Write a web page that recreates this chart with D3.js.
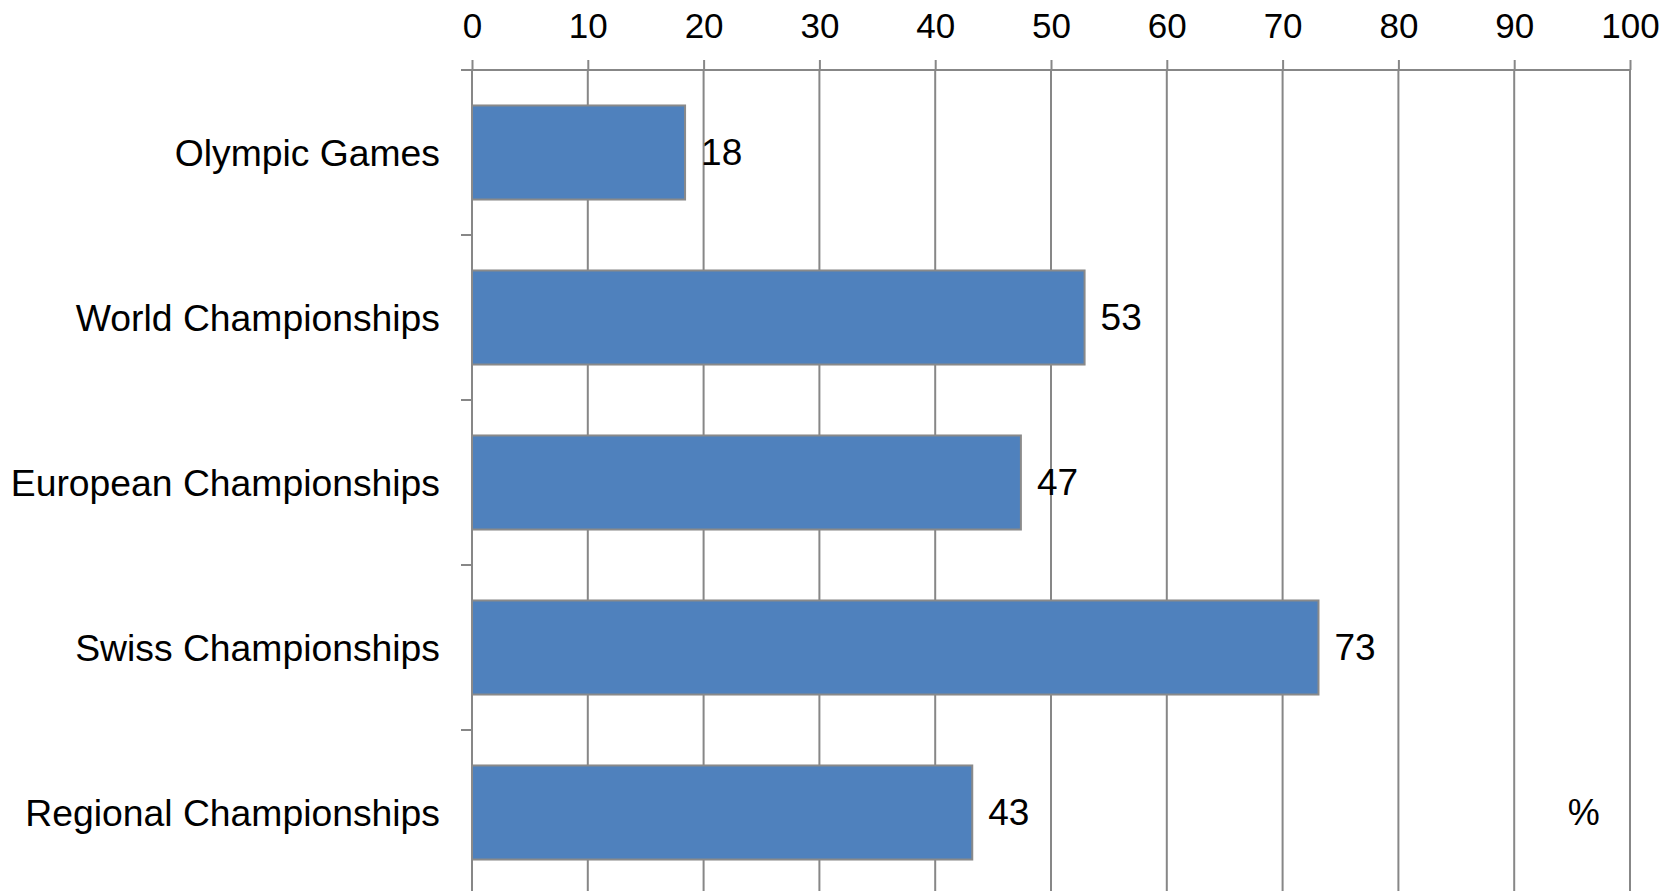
<!DOCTYPE html>
<html lang="en">
  <head>
    <meta charset="UTF-8" />
    <title>Championships bar chart</title>
    <script src="https://cdnjs.cloudflare.com/ajax/libs/d3/7.8.5/d3.min.js"></script>
    <style>
      body { margin: 0; background: #fff; }
      text { font-family: Arial, "Liberation Sans", sans-serif; fill: #000; }
    </style>
  </head>
  <body>
    <div id="chart"></div>

    <script type="text/javascript">
      var categories = [
        "Olympic Games",
        "World Championships",
        "European Championships",
        "Swiss Championships",
        "Regional Championships"
      ];
      var values = [18.4, 52.9, 47.4, 73.1, 43.2];
      var xTicks = [0, 10, 20, 30, 40, 50, 60, 70, 80, 90, 100];
      var unitLabel = "%";

      var width = 1676, height = 891;
      var margin = { top: 70, left: 472, right: 46 };
      var plotBottom = 895;
      var gridColor = "#878787";

      var svg = d3.select("#chart").append("svg")
        .attr("width", width)
        .attr("height", height);

      var x = d3.scaleLinear()
        .domain([0, 100])
        .range([margin.left, width - margin.right]);

      var y = d3.scaleBand()
        .domain(categories)
        .range([margin.top, plotBottom])
        .paddingInner(0.43)
        .paddingOuter(0.215);

      /* vertical grid lines */
      svg.append("g")
        .selectAll("line")
        .data(xTicks)
        .enter()
        .append("line")
        .attr("x1", function (d) { return x(d); })
        .attr("x2", function (d) { return x(d); })
        .attr("y1", margin.top)
        .attr("y2", plotBottom)
        .style("stroke", gridColor)
        .style("stroke-width", 2);

      /* top value axis */
      var xAxis = svg.append("g")
        .attr("transform", "translate(0," + margin.top + ")")
        .call(d3.axisTop(x).tickValues(xTicks).tickSize(10).tickPadding(22).tickSizeOuter(0));
      xAxis.select(".domain").remove();
      xAxis.selectAll("line").style("stroke", gridColor).style("stroke-width", 2);
      xAxis.selectAll("text")
        .style("font-size", "35px")
        .attr("fill", "#000");

      svg.append("line")
        .attr("x1", margin.left - 11)
        .attr("x2", x(100))
        .attr("y1", margin.top)
        .attr("y2", margin.top)
        .style("stroke", gridColor)
        .style("stroke-width", 2);

      /* category axis ticks at band boundaries */
      var step = y.step();
      var bounds = categories.map(function (c) { return y(c) - (step - y.bandwidth()) / 2; });
      bounds.push(plotBottom);
      svg.append("g")
        .selectAll("line")
        .data(bounds)
        .enter()
        .append("line")
        .attr("x1", margin.left - 11)
        .attr("x2", margin.left)
        .attr("y1", function (d) { return d; })
        .attr("y2", function (d) { return d; })
        .style("stroke", gridColor)
        .style("stroke-width", 2);

      svg.append("line")
        .attr("x1", margin.left)
        .attr("x2", margin.left)
        .attr("y1", margin.top)
        .attr("y2", plotBottom)
        .style("stroke", gridColor)
        .style("stroke-width", 2);

      /* bars */
      svg.append("g")
        .selectAll("rect")
        .data(values)
        .enter()
        .append("rect")
        .attr("x", x(0))
        .attr("y", function (d, i) { return y(categories[i]); })
        .attr("width", function (d) { return x(d) - x(0); })
        .attr("height", y.bandwidth())
        .style("fill", "#4f81bd")
        .style("stroke", "#8a8a8a")
        .style("stroke-width", 2);

      /* data labels */
      svg.append("g")
        .selectAll("text")
        .data(values)
        .enter()
        .append("text")
        .attr("x", function (d) { return x(d) + 16; })
        .attr("y", function (d, i) { return y(categories[i]) + y.bandwidth() / 2; })
        .attr("dy", "0.35em")
        .style("font-size", "37px")
        .text(function (d) { return Math.round(d); });

      /* category labels */
      svg.append("g")
        .selectAll("text")
        .data(categories)
        .enter()
        .append("text")
        .attr("x", margin.left - 32)
        .attr("y", function (d) { return y(d) + y.bandwidth() / 2; })
        .attr("dy", "0.35em")
        .attr("text-anchor", "end")
        .style("font-size", "37.3px")
        .text(function (d) { return d; });

      /* unit label */
      var last = categories[categories.length - 1];
      svg.append("text")
        .attr("x", x(96))
        .attr("y", y(last) + y.bandwidth() / 2)
        .attr("dy", "0.35em")
        .attr("text-anchor", "middle")
        .style("font-size", "36px")
        .text(unitLabel);
    </script>
  </body>
</html>
